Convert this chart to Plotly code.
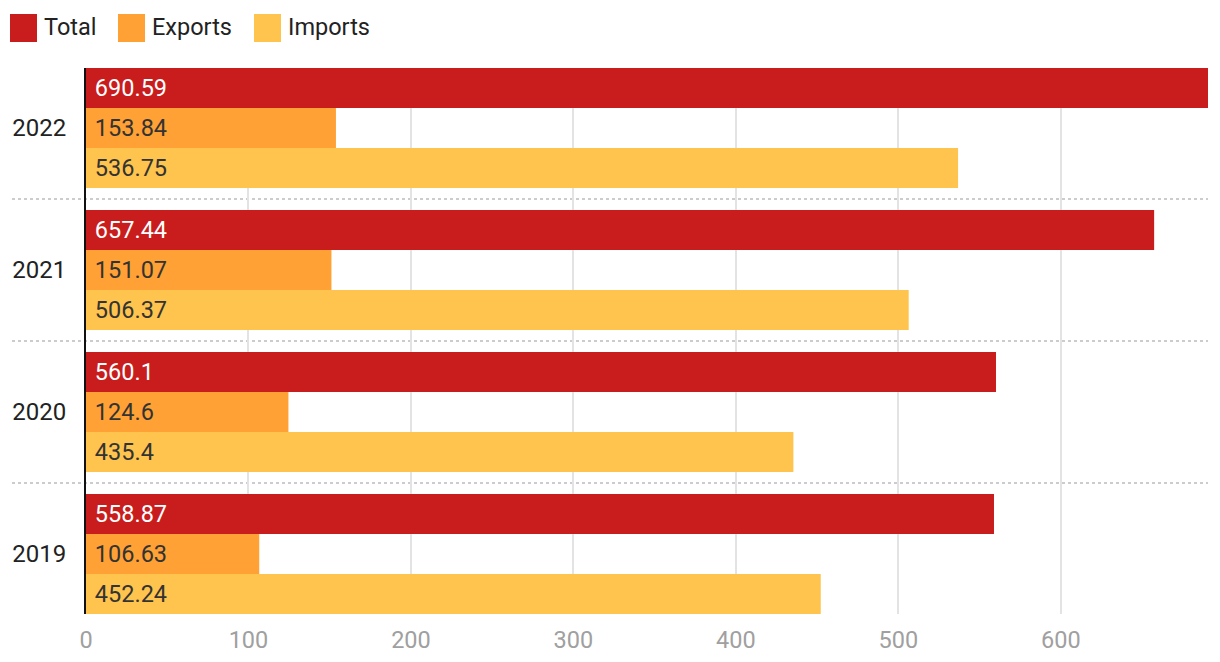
import plotly.graph_objects as go

# ---- data ----
years = ["2022", "2021", "2020", "2019"]
series_names = ["Total", "Exports", "Imports"]
total = [690.59, 657.44, 560.1, 558.87]
exports = [153.84, 151.07, 124.6, 106.63]
imports = [536.75, 506.37, 435.4, 452.24]
x_ticks = [0, 100, 200, 300, 400, 500, 600]

series_values = [total, exports, imports]
colors = ["#C91D1D", "#FFA134", "#FFC44D"]
text_colors = ["#FFFFFF", "#333333", "#333333"]

W, H = 1220, 662
L, R, T, B = 86, 12, 68, 48
PW, PH = W - L - R, H - T - B

def px2x(px):
    return (px - L) / PW

def py2y(py):
    return (H - B - py) / PH

BARGAP = 22 / 142
FS = 23.5

fig = go.Figure()
PAD = "\u00a0"
for name, vals, col, tcol in zip(series_names, series_values, colors, text_colors):
    fig.add_trace(go.Bar(
        name=name,
        y=years,
        x=vals,
        orientation="h",
        marker=dict(color=col, line=dict(width=0)),
        text=[PAD + str(v) for v in vals],
        textposition="inside",
        insidetextanchor="start",
        textangle=0,
        insidetextfont=dict(family="Roboto", size=FS, color=tcol),
        showlegend=False,
        hoverinfo="skip",
    ))

half = (1 - BARGAP) / 2
shapes = []
# dotted category separators
for i in range(len(years) - 1):
    shapes.append(dict(
        type="line", xref="paper", yref="y",
        x0=px2x(12), x1=1, y0=i + 0.5, y1=i + 0.5,
        line=dict(color="#CCCCCC", width=2, dash="3px,3px"),
        layer="below",
    ))

# manual legend
annotations = []
legend_x = [10, 118, 254]
for name, col, lx in zip(series_names, colors, legend_x):
    shapes.append(dict(
        type="rect", xref="paper", yref="paper",
        x0=px2x(lx), x1=px2x(lx + 27), y0=py2y(42), y1=py2y(14),
        fillcolor=col, line=dict(width=0),
    ))
    annotations.append(dict(
        xref="paper", yref="paper", x=px2x(lx + 32), y=py2y(27),
        xanchor="left", yanchor="middle", showarrow=False,
        text=name, font=dict(family="Roboto", size=FS, color="#222222"),
    ))

fig.update_layout(
    width=W, height=H,
    margin=dict(l=L, r=R, t=T, b=B, autoexpand=False),
    paper_bgcolor="white", plot_bgcolor="white",
    barmode="group", bargap=BARGAP, bargroupgap=0,
    font=dict(family="Roboto", size=FS, color="#222222"),
    shapes=shapes,
    annotations=annotations,
    xaxis=dict(
        range=[0, max(total)],
        tickvals=x_ticks,
        showgrid=True, gridcolor="#E3E3E3", gridwidth=2,
        zeroline=False, showline=False, ticks="",
        tickfont=dict(family="Roboto", size=FS, color="#A0A0A0"),
        ticklabelstandoff=9,
        automargin=False,
        fixedrange=True,
    ),
    yaxis=dict(
        type="category",
        categoryorder="array", categoryarray=years,
        range=[len(years) - 1 + half, -half],
        showgrid=False, zeroline=False,
        showline=True, linecolor="#111111", linewidth=2,
        ticks="",
        tickfont=dict(family="Roboto", size=24, color="#222222"),
        ticklabelstandoff=13,
        automargin=False,
        fixedrange=True,
    ),
)

fig.write_html("out.html")
